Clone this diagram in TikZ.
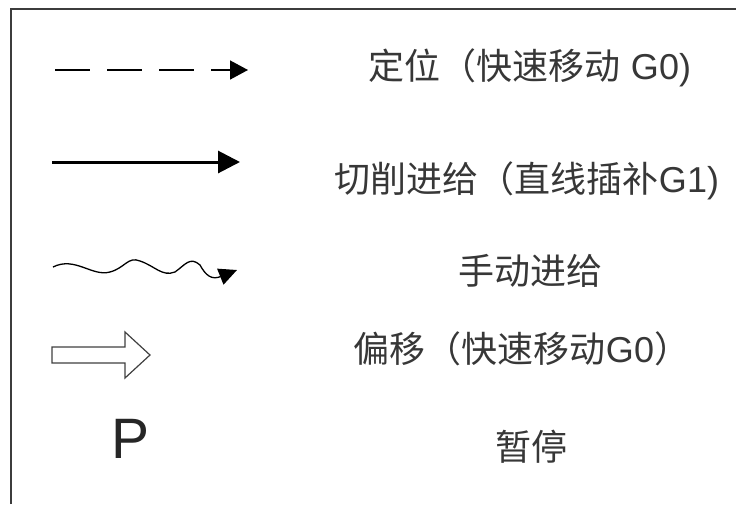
\documentclass[tikz,border=0pt]{standalone}
\usepackage{fontspec}
\setmainfont{Liberation Sans}
\newfontfamily\cjk{Noto Sans CJK SC}
\usetikzlibrary{positioning,calc,arrows.meta,decorations.pathmorphing}
\definecolor{legendgray}{RGB}{55,55,55}
\definecolor{framegray}{RGB}{60,60,60}

\begin{document}
\begin{tikzpicture}[
  x=1pt, y=-1pt,
  txt/.style={font=\fontsize{36}{40}\selectfont, text=legendgray, inner sep=0pt},
  rapid/.style={-{Triangle[length=18pt,width=19pt]}, line width=1.5pt, dash pattern=on 35pt off 17pt},
  cutfeed/.style={-{Triangle[length=22pt,width=22pt]}, line width=3pt},
  manual/.style={-{Triangle[length=18pt,width=17pt]}, line width=1.3pt},
  hollow/.style={draw=black!75, line width=1.2pt, fill=white, line join=miter},
]
\useasboundingbox (0,0) rectangle (736,504);

% Frame (only top and left edges are visible)
\draw[framegray, line width=2.8pt] (11,504) -- (11,9) -- (736,9);

% Rapid positioning
\coordinate (g0a) at (55,70);
\coordinate (g0b) at (248,70);
\draw[rapid] (g0a) -- (g0b);
\node[txt] (g0txt) at (530,68) {{\cjk 定位（快速移动} G0)};

% Cutting feed
\coordinate (g1a) at (52,162);
\coordinate (g1b) at (240,162);
\draw[cutfeed] (g1a) -- (g1b);
\node[txt] (g1txt) at (527,181) {{\cjk 切削进给（直线插补}G1)};

% Manual feed
\coordinate (mfa) at (53,267);
\coordinate (mfb) at (237,270);
\draw[manual] (mfa) .. controls (75,256) and (92,277) .. (110,272)
  .. controls (125,268) and (128,256) .. (140,261)
  .. controls (155,266) and (162,277) .. (175,272)
  .. controls (185,265) and (190,256) .. (200,265)
  .. controls (206,276) and (212,280) .. (mfb);
\node[txt] (mftxt) at (530,271) {\cjk 手动进给};

% Offset
\coordinate (ofa) at (52,355);
\draw[hollow] (ofa) ++(0,-8) -- (125,347) -- (125,332) -- (150,355)
  -- (125,378) -- (125,363) -- ($(ofa)+(0,8)$) -- cycle;
\node[txt] (oftxt) at (522,349) {{\cjk 偏移（快速移动}G0{\cjk ）}};

% Pause
\node[font=\fontsize{57}{60}\selectfont, text=black!85, inner sep=0pt] (pmark) at (131,439) {P};
\node[txt] (ptxt) at (531,447) {\cjk 暂停};

\end{tikzpicture}
\end{document}
